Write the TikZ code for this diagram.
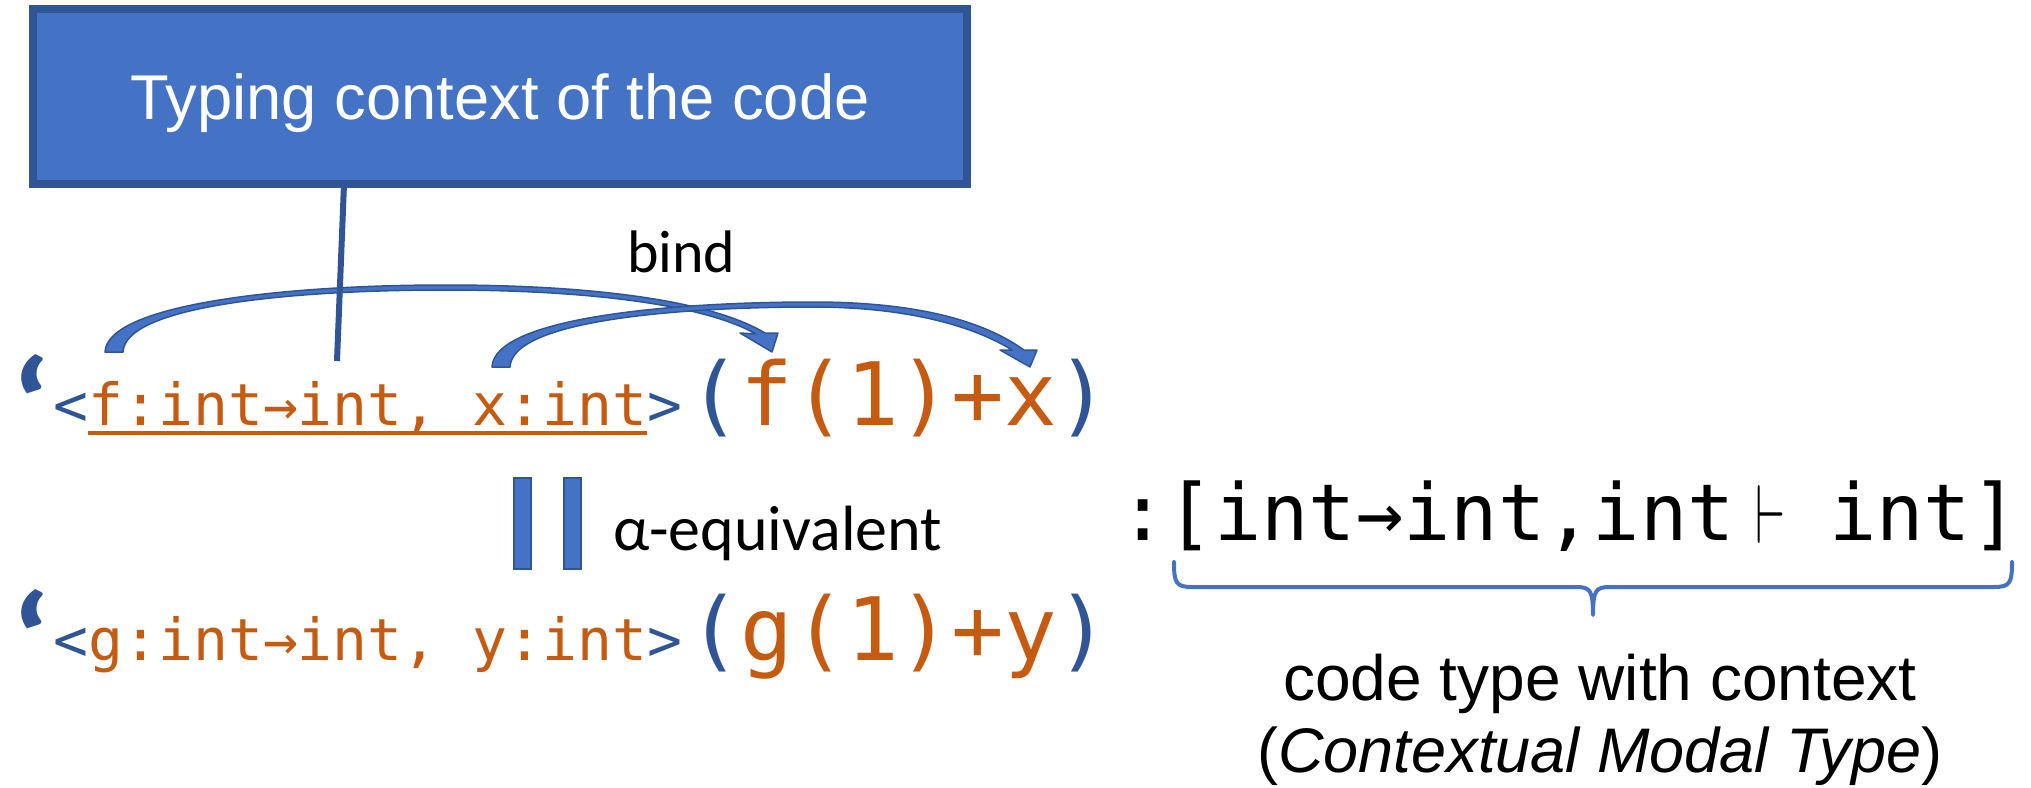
\documentclass[tikz,border=0pt]{standalone}
\usepackage{graphicx}
\usepackage{fontspec}
\setmainfont{Liberation Sans}
\newfontfamily\carl{Carlito}
\newfontfamily\mono{DejaVu Sans Mono}
\definecolor{codeorange}{HTML}{C55A11}
\definecolor{darkblue}{HTML}{2F5597}
\definecolor{accblue}{HTML}{4472C4}
\newcommand\fsz[1]{\fontsize{#1}{#1}\selectfont}
\begin{document}
\begin{tikzpicture}[x=1pt,y=-1pt,
  txt/.style={inner sep=0pt, outer sep=0pt, anchor=base west},
  ctxbox/.style={draw=darkblue, fill=accblue, line width=8pt, inner sep=0pt, outer sep=0pt,
    minimum width=934pt, minimum height=175pt, text=white, text height=45.3pt, text depth=0pt},
  eqbar/.style={draw=darkblue, fill=accblue, line width=2pt, inner sep=0pt, outer sep=0pt,
    minimum width=17pt, minimum height=91pt},
  bindarrow/.style={draw=darkblue, fill=accblue, line width=1.5pt, line join=round},
  smallcode/.style={txt, font=\mono\fsz{58}},
  bigcode/.style={txt, font=\mono\fsz{87.5}},
  quotemark/.style={txt, text=darkblue, font=\carl\bfseries\fsz{130}}]
\useasboundingbox (0,0) rectangle (2031,787);

% typing context box
\node[ctxbox, font=\fsz{63.3}] (box) at (500,96.5) {Typing context of the code};

% first code line
\node[quotemark] (q1) at (10,450) {\scalebox{1.2}[1]{‘}};
\node[smallcode, text=darkblue] (lt1) at (53.5,425) {<};
\node[smallcode, text=codeorange] (ctx1) at (lt1.base east) {f:int→int, x:int};
\node[smallcode, text=darkblue] (gt1) at (ctx1.base east) {>};
\draw[codeorange, line width=4pt] ([yshift=-8pt]ctx1.base west) -- ([yshift=-8pt]ctx1.base east);
\node[bigcode, text=darkblue] (bo1) at (688,425) {(};
\node[bigcode, text=codeorange] (body1) at (bo1.base east) {f(1)+x};
\node[bigcode, text=darkblue] (bc1) at (body1.base east) {)};

% second code line
\node[quotemark] (q2) at (10,685) {\scalebox{1.2}[1]{‘}};
\node[smallcode, text=darkblue] (lt2) at (53.5,660) {<};
\node[smallcode, text=codeorange] (ctx2) at (lt2.base east) {g:int→int, y:int};
\node[smallcode, text=darkblue] (gt2) at (ctx2.base east) {>};
\node[bigcode, text=darkblue] (bo2) at (688,660) {(};
\node[bigcode, text=codeorange] (body2) at (bo2.base east) {g(1)+y};
\node[bigcode, text=darkblue] (bc2) at (body2.base east) {)};

% alpha equivalence
\node[eqbar] (eqa) at (522,523) {};
\node[eqbar] (eqb) at (572,523) {};
\node[txt, font=\carl\fsz{64}] (alpha) at (613,550) {α-equivalent};

% bind arrows
\node[txt, font=\carl\fsz{60}] (bind) at (627,272) {bind};
\coordinate (a1s) at (105,352);
\coordinate (a1t) at (772,352);
\coordinate (a2s) at (492,367);
\coordinate (a2t) at (1030,367);
\path[bindarrow] (a1s) .. controls (107,305) and (280,285) .. (446,285)
  .. controls (590,285) and (710,300) .. (765,333)
  -- (778,333) -- (a1t) -- (740,333) -- (756,334)
  .. controls (705,305) and (590,290) .. (446,290)
  .. controls (290,290) and (125,306) .. (123,352) -- cycle;
\path[bindarrow] (a2s) .. controls (494,318) and (670,302) .. (813,302)
  .. controls (920,302) and (985,322) .. (1024,350)
  -- (1037,350) -- (a2t) -- (1000,350) -- (1012,350)
  .. controls (975,327) and (910,307) .. (813,307)
  .. controls (680,307) and (512,320) .. (510,367) -- cycle;

% line from the box to the context
\coordinate (ctxpt) at (337,361);
\draw[darkblue, line width=6pt] ([xshift=-156pt]box.south) -- (ctxpt);

% type
\node[txt, font=\mono\fsz{78.6}] (type) at (1119.5,540)
  {:[int→int,int\makebox[0.602em][l]{\hspace{21pt}\raisebox{-3pt}{\resizebox{30pt}{58pt}{\normalsize$\vdash$}}} int]};
\coordinate (brl) at (1174,562);
\coordinate (brr) at (2012,562);
\coordinate (brt) at (1593,615);
\draw[accblue, line width=4pt, line cap=round, line join=round]
  (brl) .. controls (1174,583) and (1176,587) .. (1192,587) -- (1576,587)
  .. controls (1590,587) and (1593,590) .. (brt)
  .. controls (1593,590) and (1596,587) .. (1610,587) -- (1994,587)
  .. controls (2010,587) and (2012,583) .. (brr);
\node[anchor=base, inner sep=0pt, font=\fsz{64}] (ct1) at (1600,700) {code type with context};
\node[anchor=base, inner sep=0pt, font=\fsz{63}] (ct2) at (1600,772) {(\textit{Contextual Modal Type})};
\end{tikzpicture}
\end{document}
